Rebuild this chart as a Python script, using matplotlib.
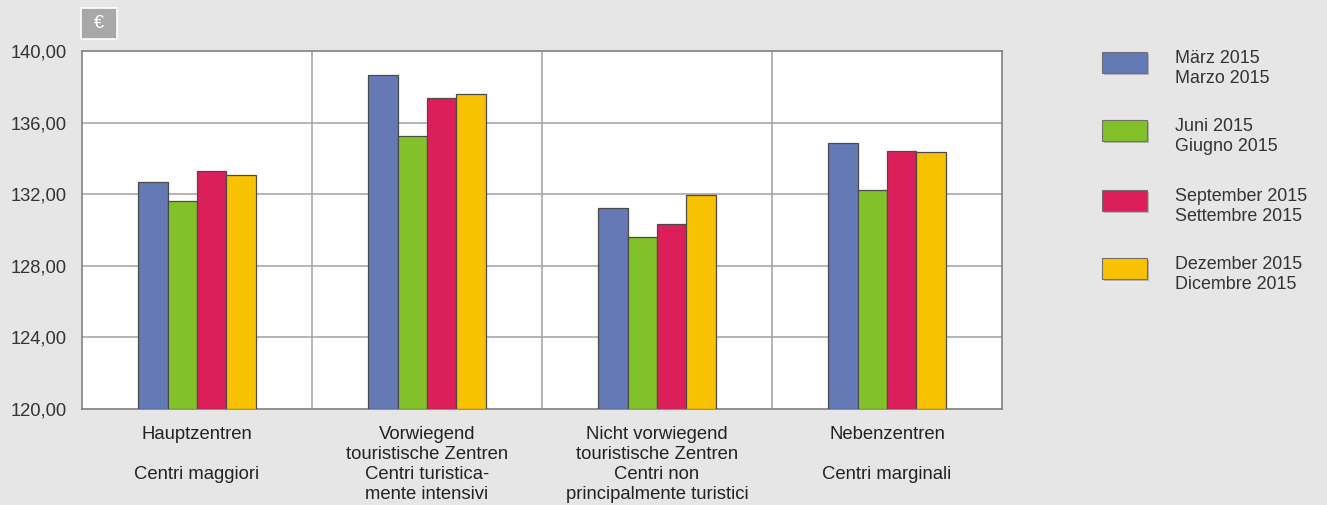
import matplotlib.pyplot as plt
import numpy as np
from matplotlib.patches import Rectangle

categories = [
    "Hauptzentren\n\nCentri maggiori",
    "Vorwiegend\ntouristische Zentren\nCentri turistica-\nmente intensivi",
    "Nicht vorwiegend\ntouristische Zentren\nCentri non\nprincipalmente turistici",
    "Nebenzentren\n\nCentri marginali",
]
series_labels = [
    "März 2015\nMarzo 2015",
    "Juni 2015\nGiugno 2015",
    "September 2015\nSettembre 2015",
    "Dezember 2015\nDicembre 2015",
]
maerz = [132.68, 138.66, 131.21, 134.84]
juni = [131.60, 135.23, 129.61, 132.23]
september = [133.30, 137.36, 130.32, 134.40]
dezember = [133.05, 137.61, 131.96, 134.34]
yticks = [120, 124, 128, 132, 136, 140]
colors = ["#6479b5", "#83c12a", "#dc1e5a", "#f8c200"]

plt.rcParams['font.family'] = ['Liberation Sans', 'DejaVu Sans']
bg = "#e6e6e6"
fig = plt.figure(figsize=(13.27, 5.05), dpi=100, facecolor=bg)
ax = fig.add_axes([82 / 1327, 1 - 409 / 505, 920 / 1327, 358 / 505])
ax.set_facecolor("white")

x = np.arange(len(categories))
w = 0.128
series = [maerz, juni, september, dezember]
for i, vals in enumerate(series):
    ax.bar(x + (i - 1.5) * w, np.array(vals) - 120, bottom=120, width=w,
           color=colors[i], edgecolor="#4a4a4a", linewidth=0.9, zorder=3)

ax.set_xlim(-0.5, 3.5)
ax.set_ylim(120, 140)
ax.set_yticks(yticks)
ax.set_yticklabels([f"{v:.2f}".replace(".", ",") for v in yticks],
                   fontsize=13.2, color="#333333")
ax.set_xticks(x)
ax.set_xticklabels(categories, fontsize=13.3, color="#222222", linespacing=1.25, va="top")
ax.tick_params(axis="both", length=0)
ax.tick_params(axis="x", pad=12)
ax.tick_params(axis="y", pad=11)
for yv in yticks[1:-1]:
    ax.axhline(yv, color="#a0a0a0", linewidth=1.1, zorder=1)
for xv in [0.5, 1.5, 2.5]:
    ax.axvline(xv, color="#a0a0a0", linewidth=1.1, zorder=1)
for s in ax.spines.values():
    s.set_color("#808080")
    s.set_linewidth(1.2)

# euro badge
fig.add_artist(Rectangle((81 / 1327, 1 - 39 / 505), 36 / 1327, 31 / 505,
                         transform=fig.transFigure, facecolor="#a8a8a8",
                         edgecolor="white", linewidth=1.2))
fig.text(99 / 1327, 1 - 23.5 / 505, "€", color="white", fontsize=13,
         ha="center", va="center")

# legend
leg_y = [52, 120, 190, 258]
for i, lab in enumerate(series_labels):
    y0 = leg_y[i]
    fig.add_artist(Rectangle((1104 / 1327, 1 - (y0 + 23) / 505), 45 / 1327, 21 / 505,
                             transform=fig.transFigure, facecolor="#b5b5b5",
                             edgecolor="none"))
    fig.add_artist(Rectangle((1102 / 1327, 1 - (y0 + 21) / 505), 45 / 1327, 21 / 505,
                             transform=fig.transFigure, facecolor=colors[i],
                             edgecolor="#707070", linewidth=0.8))
    fig.text(1175 / 1327, 1 - (y0 - 2) / 505, lab, fontsize=12.9, color="#333333",
             ha="left", va="top", linespacing=1.22)

fig.savefig("out.png", dpi=100, facecolor=bg)
